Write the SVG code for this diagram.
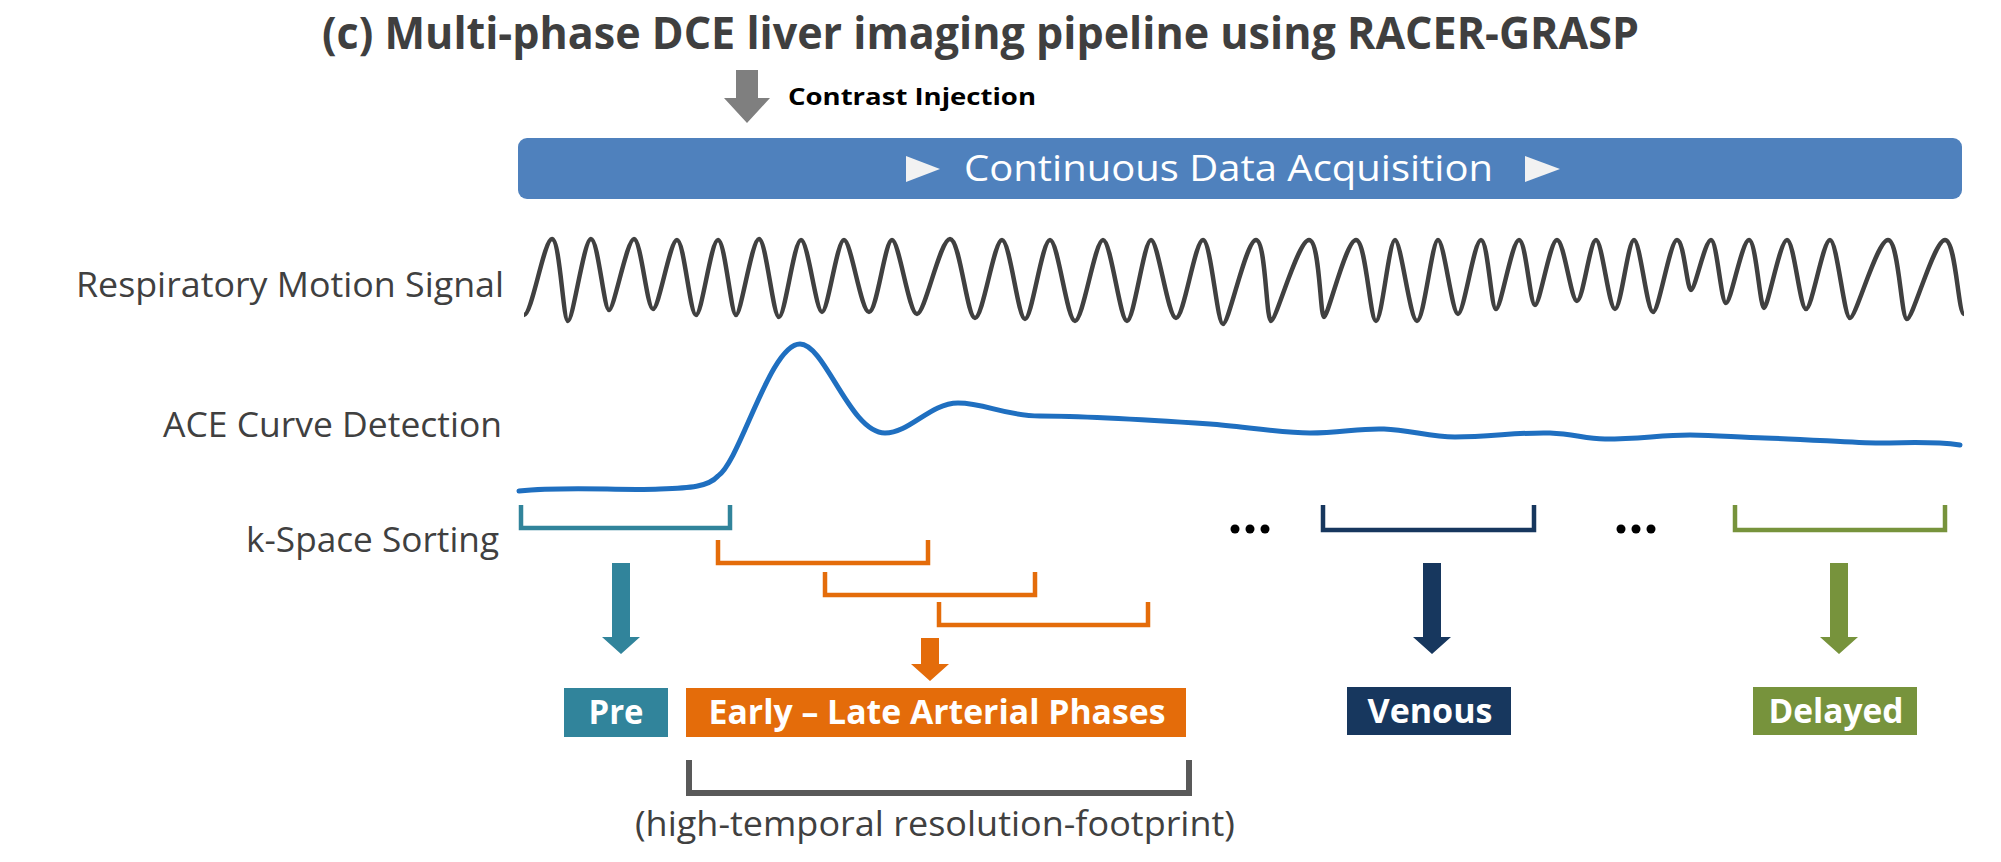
<svg xmlns="http://www.w3.org/2000/svg" width="2001" height="862" viewBox="0 0 2001 862">
<style>
.lbl{font-family:"Open Sans","Liberation Sans",sans-serif;font-size:34px;fill:#404040}
.bx{font-family:"Open Sans","Liberation Sans",sans-serif;font-size:34px;font-weight:bold;fill:#ffffff}
.br{fill:none;stroke-width:4.5;stroke-linejoin:miter}
</style>
<rect width="2001" height="862" fill="#ffffff"/>
<text x="322" y="49" textLength="1317" lengthAdjust="spacingAndGlyphs" style="font-family:'Open Sans','Liberation Sans',sans-serif;font-size:44px;font-weight:bold;fill:#3f3f3f">(c) Multi-phase DCE liver imaging pipeline using RACER-GRASP</text>
<g id="injection">
<polygon points="736,70 758,70 758,98 770,98 747,123 724,98 736,98" fill="#7f7f7f"/>
<text x="788" y="105" textLength="248" lengthAdjust="spacingAndGlyphs" style="font-family:'Open Sans','Liberation Sans',sans-serif;font-size:24px;font-weight:bold;fill:#000">Contrast Injection</text>
</g>
<g id="acquisition">
<rect x="518" y="138" width="1444" height="61" rx="9" fill="#4f81bd"/>
<polygon points="906,156 940,169 906,182" fill="#f2f2f2"/>
<polygon points="1525,156 1560,169 1525,182" fill="#f2f2f2"/>
<text x="964" y="181" textLength="529" lengthAdjust="spacingAndGlyphs" style="font-family:'Open Sans','Liberation Sans',sans-serif;font-size:37px;fill:#ffffff">Continuous Data Acquisition</text>
</g>
<g id="labels">
<text class="lbl" x="504" y="297" text-anchor="end" textLength="428" lengthAdjust="spacingAndGlyphs">Respiratory Motion Signal</text>
<text class="lbl" x="502" y="437" text-anchor="end" textLength="339" lengthAdjust="spacingAndGlyphs">ACE Curve Detection</text>
<text class="lbl" x="499" y="552" text-anchor="end" textLength="253" lengthAdjust="spacingAndGlyphs">k-Space Sorting</text>
</g>
<g id="respiratory">
<path fill="none" stroke="#404040" stroke-width="4.5" stroke-linejoin="round" d="M 524 315 C 532 315 544 239 552 239 S 563 321 568 321 S 584 239 591 239 S 604 310 609 310 S 627 239 634 239 S 647 309 653 309 S 670 240 677 240 S 690 315 696 315 S 711 240 718 240 S 731 315 736 315 S 752 239 759 239 S 773 317 779 317 S 794 240 801 240 S 816 312 822 312 S 837 240 844 240 S 861 312 869 312 S 885 240 892 240 S 909 314 917 314 S 940 239 950 239 S 967 318 975 318 S 994 240 1002 240 S 1018 319 1025 319 S 1042 240 1050 240 S 1067 321 1075 321 S 1095 240 1103 240 S 1120 321 1127 321 S 1144 240 1151 240 S 1168 318 1176 318 S 1195 240 1203 240 S 1217 324 1223 324 S 1246 240 1256 240 S 1266 321 1271 321 S 1298 240 1309 240 S 1320 317 1324 317 S 1346 240 1356 240 S 1370 321 1376 321 S 1389 240 1395 240 S 1410 321 1417 321 S 1432 240 1438 240 S 1452 314 1458 314 S 1474 240 1481 240 S 1491 309 1496 309 S 1512 240 1519 240 S 1530 305 1535 305 S 1550 240 1557 240 S 1571 301 1577 301 S 1590 240 1596 240 S 1609 309 1615 309 S 1628 240 1634 240 S 1647 312 1653 312 S 1670 240 1677 240 S 1687 290 1691 290 S 1705 240 1711 240 S 1721 303 1726 303 S 1742 240 1749 240 S 1760 308 1764 308 S 1780 240 1787 240 S 1800 309 1806 309 S 1823 240 1830 240 S 1844 318 1850 318 S 1877 240 1888 240 S 1901 319 1907 319 S 1934 240 1945 240 S 1958 314 1964 314"/>
</g>
<g id="ace-curve">
<path fill="none" stroke="#1f6fc0" stroke-width="5" stroke-linecap="round" d="M 519 491 C 570 486 620 491 660 489 C 690 488 708 487 718 476 C 740 462 770 344 800 344 C 825 344 850 433 885 433 C 910 433 930 403 958 403 C 985 403 1005 416 1040 416 C 1090 416 1150 420 1210 424 C 1240 426 1280 433 1310 433 C 1340 433 1360 428 1384 429 C 1410 430 1430 437 1455 437 C 1490 437 1520 432 1550 433 C 1575 434 1585 439 1605 439 C 1640 439 1660 435 1690 435 C 1720 435 1740 438 1765 438 C 1810 439 1850 443 1880 443 C 1910 443 1930 441 1960 445"/>
</g>
<g id="connectors">
<path class="br" stroke="#31849b" d="M 521 505 V 528 H 730 V 505"/>
<path class="br" stroke="#e46c0a" d="M 718 540 V 563 H 928 V 540"/>
<path class="br" stroke="#e46c0a" d="M 825 572 V 595 H 1035 V 572"/>
<path class="br" stroke="#e46c0a" d="M 939 602 V 625 H 1148 V 602"/>
<path class="br" stroke="#17375e" d="M 1323 505 V 530 H 1534 V 505"/>
<path class="br" stroke="#77933c" d="M 1735 505 V 530 H 1945 V 505"/>
<path fill="none" stroke="#595959" stroke-width="6" d="M 689 760 V 793 H 1189 V 760"/>
<polygon points="612,563 630,563 630,637 640,637 621,654 602,637 612,637" fill="#31849b"/>
<polygon points="921,638 939,638 939,664 949,664 930,681 911,664 921,664" fill="#e46c0a"/>
<polygon points="1423,563 1441,563 1441,637 1451,637 1432,654 1413,637 1423,637" fill="#17375e"/>
<polygon points="1830,563 1848,563 1848,637 1858,637 1839,654 1820,637 1830,637" fill="#77933c"/>
<g fill="#000">
<circle cx="1235" cy="529" r="4.5"/><circle cx="1250" cy="529" r="4.5"/><circle cx="1265" cy="529" r="4.5"/>
<circle cx="1621" cy="529" r="4.5"/><circle cx="1636" cy="529" r="4.5"/><circle cx="1651" cy="529" r="4.5"/>
</g>
</g>
<g id="pre">
<rect x="564" y="688" width="104" height="49" fill="#31849b"/>
<text class="bx" x="616" y="724" text-anchor="middle" textLength="55" lengthAdjust="spacingAndGlyphs">Pre</text>
</g>
<g id="arterial">
<rect x="686" y="688" width="500" height="49" fill="#e46c0a"/>
<text class="bx" x="937" y="724" text-anchor="middle" textLength="457" lengthAdjust="spacingAndGlyphs">Early – Late Arterial Phases</text>
</g>
<g id="venous">
<rect x="1347" y="687" width="164" height="48" fill="#17375e"/>
<text class="bx" x="1430" y="723" text-anchor="middle" textLength="125" lengthAdjust="spacingAndGlyphs">Venous</text>
</g>
<g id="delayed">
<rect x="1753" y="687" width="164" height="48" fill="#77933c"/>
<text class="bx" x="1836" y="723" text-anchor="middle" textLength="135" lengthAdjust="spacingAndGlyphs">Delayed</text>
</g>
<g id="footprint">
<text class="lbl" x="635" y="836" textLength="600" lengthAdjust="spacingAndGlyphs">(high-temporal resolution-footprint)</text>
</g>
</svg>
